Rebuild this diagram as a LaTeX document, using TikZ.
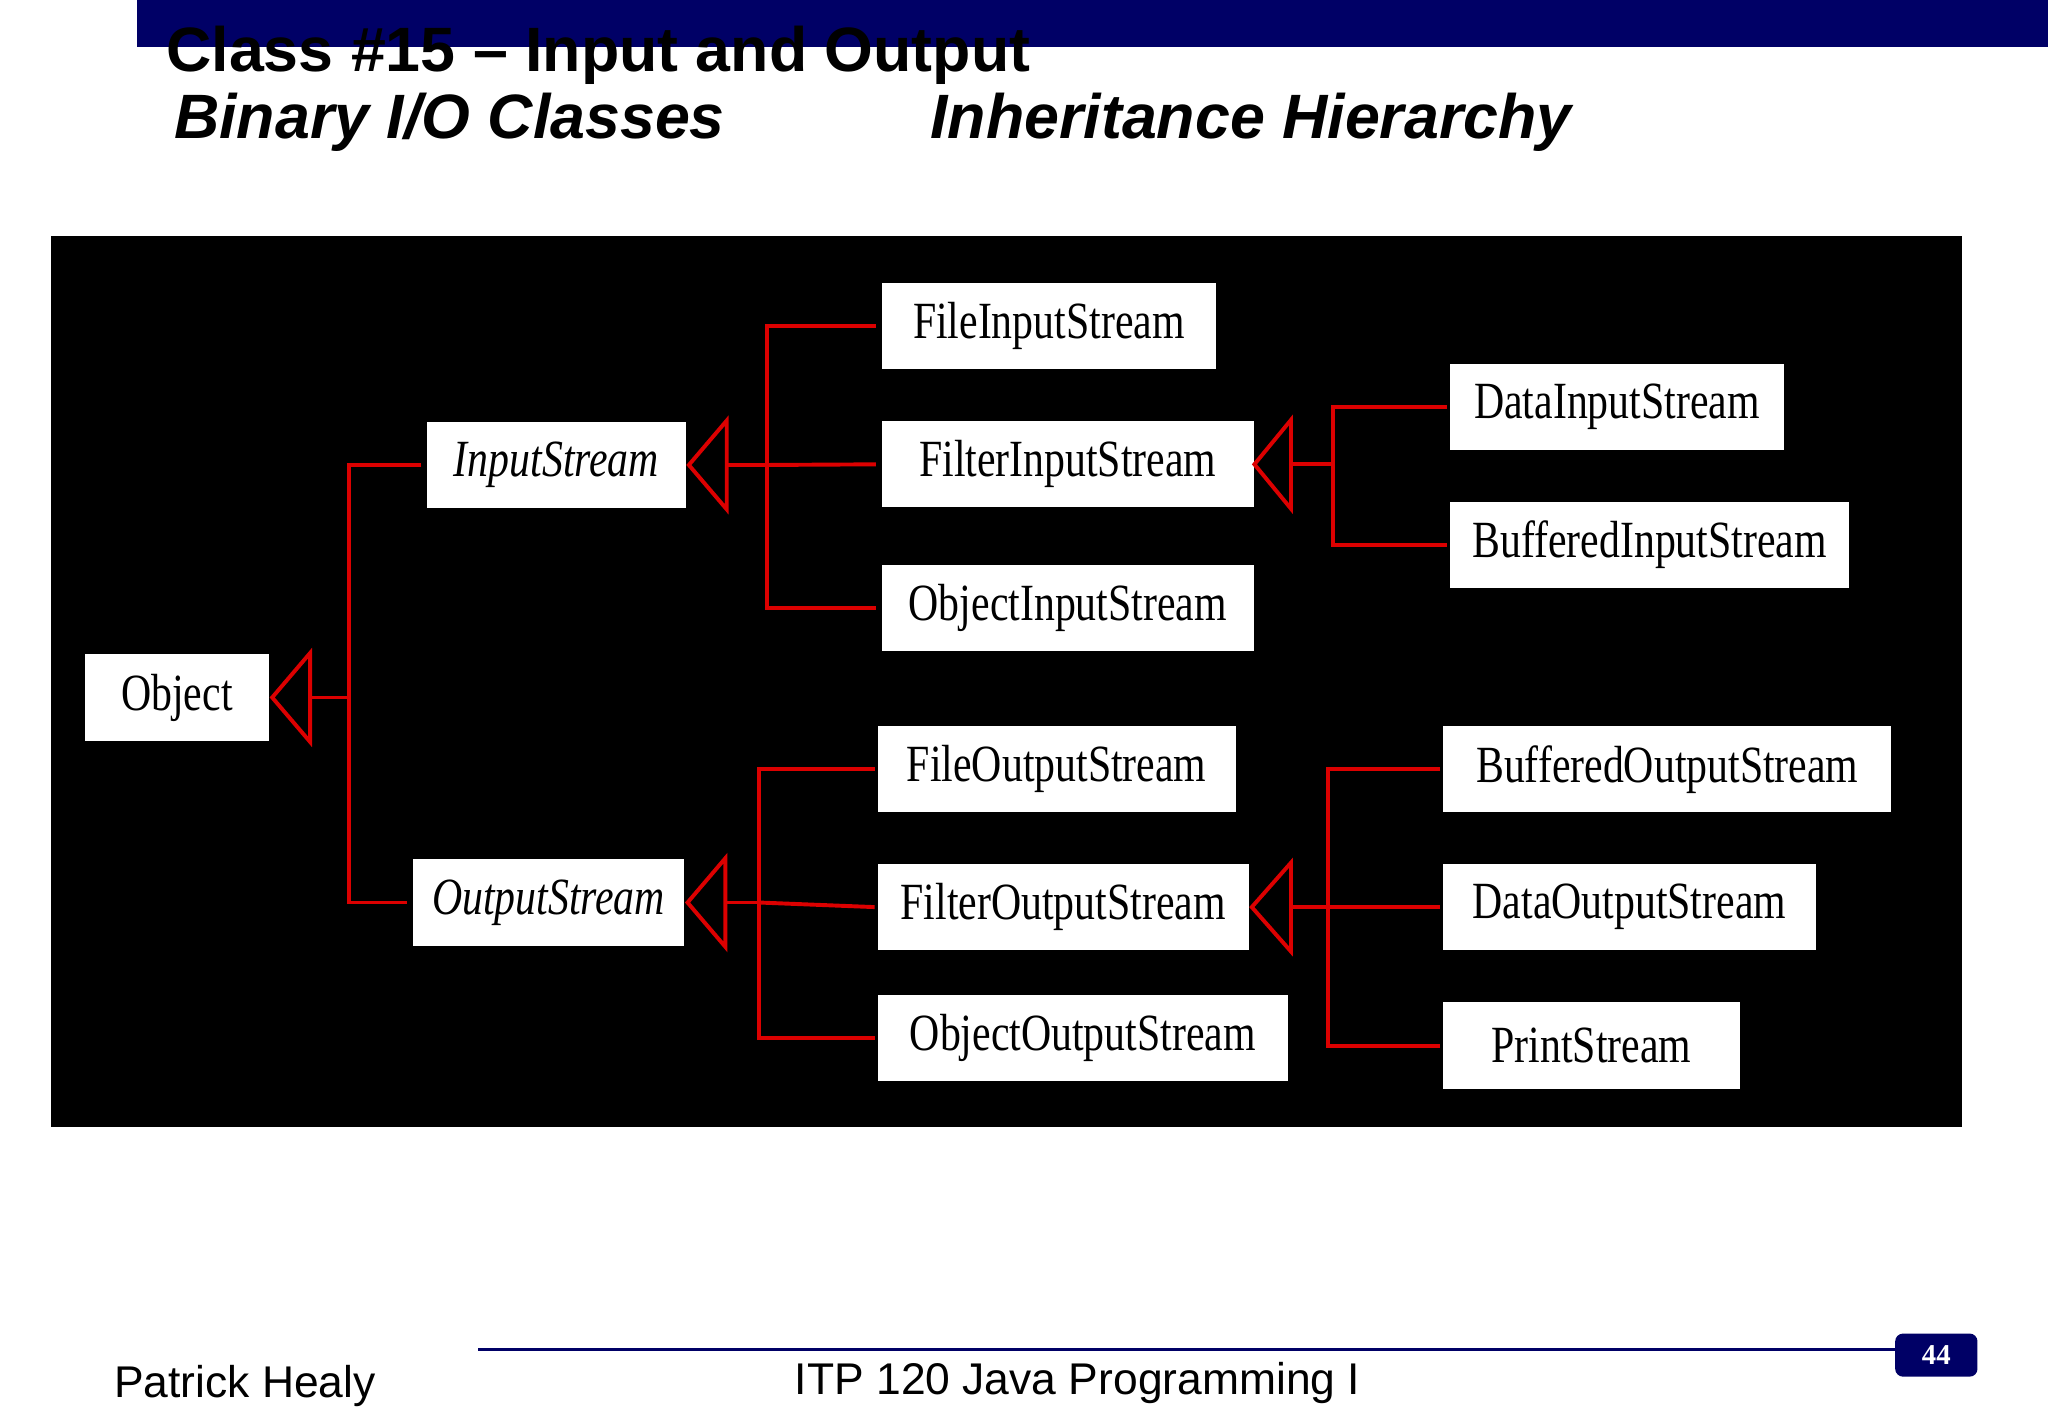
\documentclass[tikz,border=0pt]{standalone}
\usepackage{fontspec}
\setmainfont{Liberation Serif}
\setsansfont{Liberation Sans}
\usepackage{graphicx}
\definecolor{navy}{RGB}{0,0,102}
\definecolor{lred}{RGB}{220,0,0}
\newcommand\cn[1]{\scalebox{0.8}[1]{#1}}
\begin{document}
\begin{tikzpicture}[x=0.5pt,y=-0.5pt,
 box/.style={draw=none,fill=white,minimum height=33pt,inner sep=0pt,font=\fontsize{20}{22}\selectfont},
 conn/.style={draw=lred,line width=1.5pt},
 tri/.style={draw=lred,line width=1.5pt,fill=black}]
\useasboundingbox (0,0) rectangle (1568,1085);
\fill[white] (0,0) rectangle (1568,1085);
\fill[navy] (105,0) rectangle (1568,36);
\node[anchor=base west,inner sep=0,font=\sffamily\bfseries\fontsize{24}{26}\selectfont] (title) at (127,55) {Class \#15 -- Input and Output};
\node[anchor=base west,inner sep=0,font=\sffamily\bfseries\itshape\fontsize{24}{26}\selectfont] (sub1) at (133,106) {Binary I/O Classes};
\node[anchor=base west,inner sep=0,font=\sffamily\bfseries\itshape\fontsize{24}{26}\selectfont] (sub2) at (712,106) {Inheritance Hierarchy};
\fill[black] (39,181) rectangle (1502,863);
\node[box,minimum width=70.5pt] (Obj) at (135.5,534) {\cn{Object}};
\node[box,minimum width=99pt] (IS) at (426,356) {\cn{\itshape InputStream}};
\node[box,minimum width=104pt] (OS) at (420,691) {\cn{\itshape OutputStream}};
\node[box,minimum width=128pt] (FIS) at (803,249.5) {\cn{FileInputStream}};
\node[box,minimum width=142.5pt] (FiIS) at (817.5,355.5) {\cn{FilterInputStream}};
\node[box,minimum width=142.5pt] (OIS) at (817.5,465.5) {\cn{ObjectInputStream}};
\node[box,minimum width=128pt] (DIS) at (1238,311.5) {\cn{DataInputStream}};
\node[box,minimum width=153pt] (BIS) at (1263,417) {\cn{BufferedInputStream}};
\node[box,minimum width=137pt] (FOS) at (809,589) {\cn{FileOutputStream}};
\node[box,minimum width=142pt] (FiOS) at (814,694.5) {\cn{FilterOutputStream}};
\node[box,minimum width=157pt] (OOS) at (829,794.5) {\cn{ObjectOutputStream}};
\node[box,minimum width=171.5pt] (BOS) at (1276.5,589) {\cn{BufferedOutputStream}};
\node[box,minimum width=142.5pt] (DOS) at (1247.5,694.5) {\cn{DataOutputStream}};
\node[box,minimum width=113.5pt] (PS) at (1218.5,800.5) {\cn{PrintStream}};
% Object
\draw[tri] ([xshift=1pt]Obj.east) -- ++(29,-34) -- ++(0,68) -- cycle;
\draw[conn] ([xshift=15.5pt]Obj.east) -- ([xshift=30.5pt]Obj.east) coordinate (j1);
\draw[conn] ([xshift=-2pt]IS.west) -| (j1) |- ([xshift=-2pt]OS.west);
% InputStream
\draw[tri] ([xshift=1pt]IS.east) -- ++(29,-34) -- ++(0,68) -- cycle;
\draw[conn] ([xshift=15.5pt]IS.east) -- ([xshift=31pt]IS.east) coordinate (j2);
\draw[conn] ([xshift=-2pt]FIS.west) -| (j2) |- ([xshift=-2pt]OIS.west);
\draw[conn] (j2) -- ([xshift=-2pt]FiIS.west);
% FilterInputStream
\draw[tri] ([xshift=0pt]FiIS.east) -- ++(28,-34) -- ++(0,68) -- cycle;
\draw[conn] ([xshift=14pt]FiIS.east) -- ([xshift=30pt]FiIS.east) coordinate (j3);
\draw[conn] ([xshift=-1pt]DIS.west) -| (j3) |- ([xshift=-1pt]BIS.west);
% OutputStream
\draw[tri] ([xshift=1pt]OS.east) -- ++(29,-34) -- ++(0,68) -- cycle;
\draw[conn] ([xshift=15pt]OS.east) -- ([xshift=28.5pt]OS.east) coordinate (j4);
\draw[conn] ([xshift=-1pt]FOS.west) -| (j4) |- ([xshift=-1pt]OOS.west);
\draw[conn] (j4) -- ([xshift=-1pt]FiOS.west);
% FilterOutputStream
\draw[tri] ([xshift=1pt]FiOS.east) -- ++(30,-34) -- ++(0,68) -- cycle;
\draw[conn] ([xshift=16pt]FiOS.east) -- ([xshift=30pt]FiOS.east) coordinate (j5);
\draw[conn] ([xshift=-1pt]BOS.west) -| (j5) |- ([xshift=-1pt]PS.west);
\draw[conn] (j5) -- ([xshift=-1pt]DOS.west);
% footer
\draw[navy,line width=1pt] (366,1033) -- (1500,1033);
\node[anchor=base west,inner sep=0,font=\sffamily\fontsize{17}{19}\selectfont] (auth) at (87,1070) {Patrick Healy};
\node[anchor=base,inner sep=0,font=\sffamily\fontsize{17}{19}\selectfont] (course) at (825,1068) {ITP 120 Java Programming I};
\node[fill=navy,rounded corners=3pt,minimum width=31.5pt,minimum height=16.5pt,inner sep=0,text=white,font=\bfseries\fontsize{11}{12}\selectfont] (pg) at (1482.5,1037.5) {44};
\end{tikzpicture}
\end{document}
